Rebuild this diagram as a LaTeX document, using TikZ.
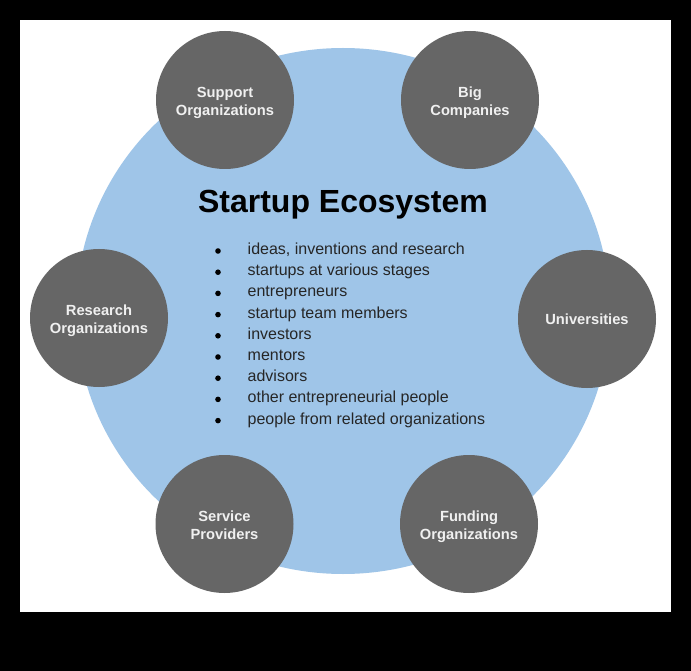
\documentclass[tikz,border=0pt]{standalone}
\usepackage{fontspec}
\setmainfont{Liberation Sans}
\usetikzlibrary{shapes.geometric}
\definecolor{ecoblue}{HTML}{9FC5E8}
\definecolor{orggray}{HTML}{666666}
\definecolor{orgtext}{HTML}{F0F0F0}
\definecolor{itemtext}{HTML}{262626}
\newcommand{\twolines}[2]{\rule{0pt}{17pt}#1\\#2\rule[-4pt]{0pt}{4pt}}
\tikzset{
  org/.style={circle, fill=orggray, draw=none, minimum size=138pt, inner sep=0pt,
    align=center, text=orgtext, font=\bfseries\fontsize{14.7}{18}\selectfont},
  eco/.style={ellipse, fill=ecoblue, draw=none, minimum width=534pt, minimum height=526pt, inner sep=0pt},
  titletext/.style={font=\bfseries\fontsize{32}{38}\selectfont, text=black, anchor=base, inner sep=0pt},
  itemline/.style={font=\fontsize{16}{20}\selectfont, text=itemtext, anchor=base west, inner sep=0pt},
  bulletdot/.style={fill=black}
}
\begin{document}
\begin{tikzpicture}[x=1pt,y=-1pt]
\useasboundingbox (0,0) rectangle (691,671);
\fill[black] (0,0) rectangle (691,671);
\fill[white] (20,20) rectangle (671,612);
\node[eco] (eco) at (343,311) {};
\node[titletext] (title) at (343,213) {Startup Ecosystem};
\foreach \t [count=\i from 0] in {{ideas, inventions and research},{startups at various stages},{entrepreneurs},{startup team members},{investors},{mentors},{advisors},{other entrepreneurial people},{people from related organizations}}{
  \fill[bulletdot] (218,251+21.2*\i) circle (2.8);
  \node[itemline] (l\i) at (247.5,254.5+21.2*\i) {\t};
}
\node[org] (support) at (225,100) {\twolines{Support}{Organizations}};
\node[org] (big) at (470,100) {\twolines{Big}{Companies}};
\node[org] (research) at (99,318) {\twolines{Research}{Organizations}};
\node[org] (univ) at (587,319) {Universities};
\node[org] (service) at (224.5,524) {\twolines{Service}{Providers}};
\node[org] (funding) at (469,524) {\twolines{Funding}{Organizations}};
\end{tikzpicture}
\end{document}
